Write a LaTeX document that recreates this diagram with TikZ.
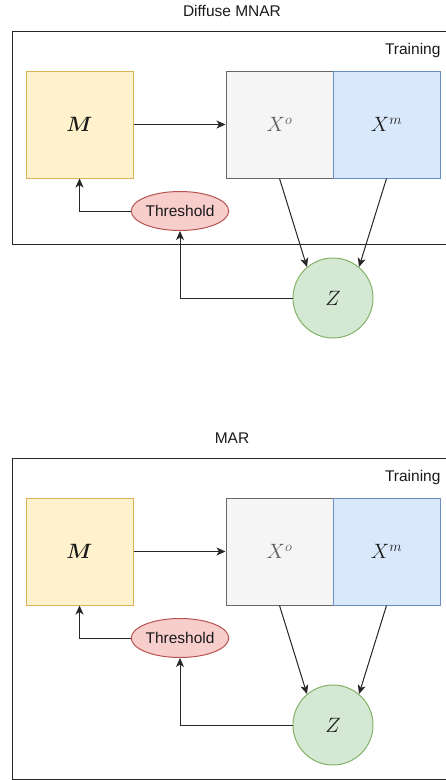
\documentclass[tikz,border=0pt]{standalone}
\usepackage{amsmath}
\usepackage{fontspec}
\setmainfont{Liberation Sans}
\usetikzlibrary{arrows.meta,shapes.geometric}
\definecolor{mfill}{HTML}{FFF2CC}
\definecolor{mdraw}{HTML}{D6B656}
\definecolor{ofill}{HTML}{F5F5F5}
\definecolor{odraw}{HTML}{666666}
\definecolor{bfill}{HTML}{DAE8FC}
\definecolor{bdraw}{HTML}{6C8EBF}
\definecolor{rfill}{HTML}{F8CECC}
\definecolor{rdraw}{HTML}{B85450}
\definecolor{gfill}{HTML}{D5E8D4}
\definecolor{gdraw}{HTML}{82B366}
\definecolor{txt}{HTML}{1A1A1A}

\begin{document}
\begin{tikzpicture}[x=1pt,y=-1pt,
    every node/.style={text=txt,font=\fontsize{15.5}{18}\selectfont},
    mathtxt/.style={font=\fontsize{21}{25}\selectfont},
    box/.style={draw,line width=1pt,minimum width=107pt,minimum height=107pt,inner sep=0pt,mathtxt},
    frame/.style={draw=black!85,line width=1pt},
    conn/.style={-{Stealth[length=9pt,width=8pt,inset=2.5pt]},line width=1pt,draw=black!85}]
  \clip (0,0) rectangle (446,780);
  \fill[white] (0,0) rectangle (446,780);
  \foreach \i/\dy/\ttl/\fbot in {1/0/Diffuse MNAR/244,2/427/MAR/352.5}{
    \begin{scope}[shift={(0,\dy)}]
      \node (title\i) at (232,11) {\ttl};
      \draw[frame] (12,31) rectangle (470,\fbot);
      \node[anchor=east] (train\i) at (444,50) {Training};
      \node[box,fill=mfill,draw=mdraw] (M\i) at (79.5,124.5) {$\boldsymbol{M}$};
      \node[box,fill=ofill,draw=odraw,text=odraw!90!black] (Xo\i) at (279.5,124.5) {$X^o$};
      \node[box,fill=bfill,draw=bdraw] (Xm\i) at (386.5,124.5) {$X^m$};
      \node[ellipse,draw=rdraw,fill=rfill,line width=1pt,minimum width=93pt,minimum height=39pt,inner sep=0pt] (thr\i) at (180,211) {Threshold};
      \node[circle,draw=gdraw,fill=gfill,line width=1pt,minimum size=80pt,mathtxt] (Z\i) at (333,298) {$Z$};
      \draw[conn] (M\i) -- (Xo\i);
      \draw[conn] (thr\i.west) -| (M\i.south);
      \draw[conn] (Xo\i.south) -- (Z\i.130);
      \draw[conn] (Xm\i.south) -- (Z\i.50);
      \draw[conn] (Z\i.west) -| (thr\i.south);
    \end{scope}
  }
\end{tikzpicture}
\end{document}
